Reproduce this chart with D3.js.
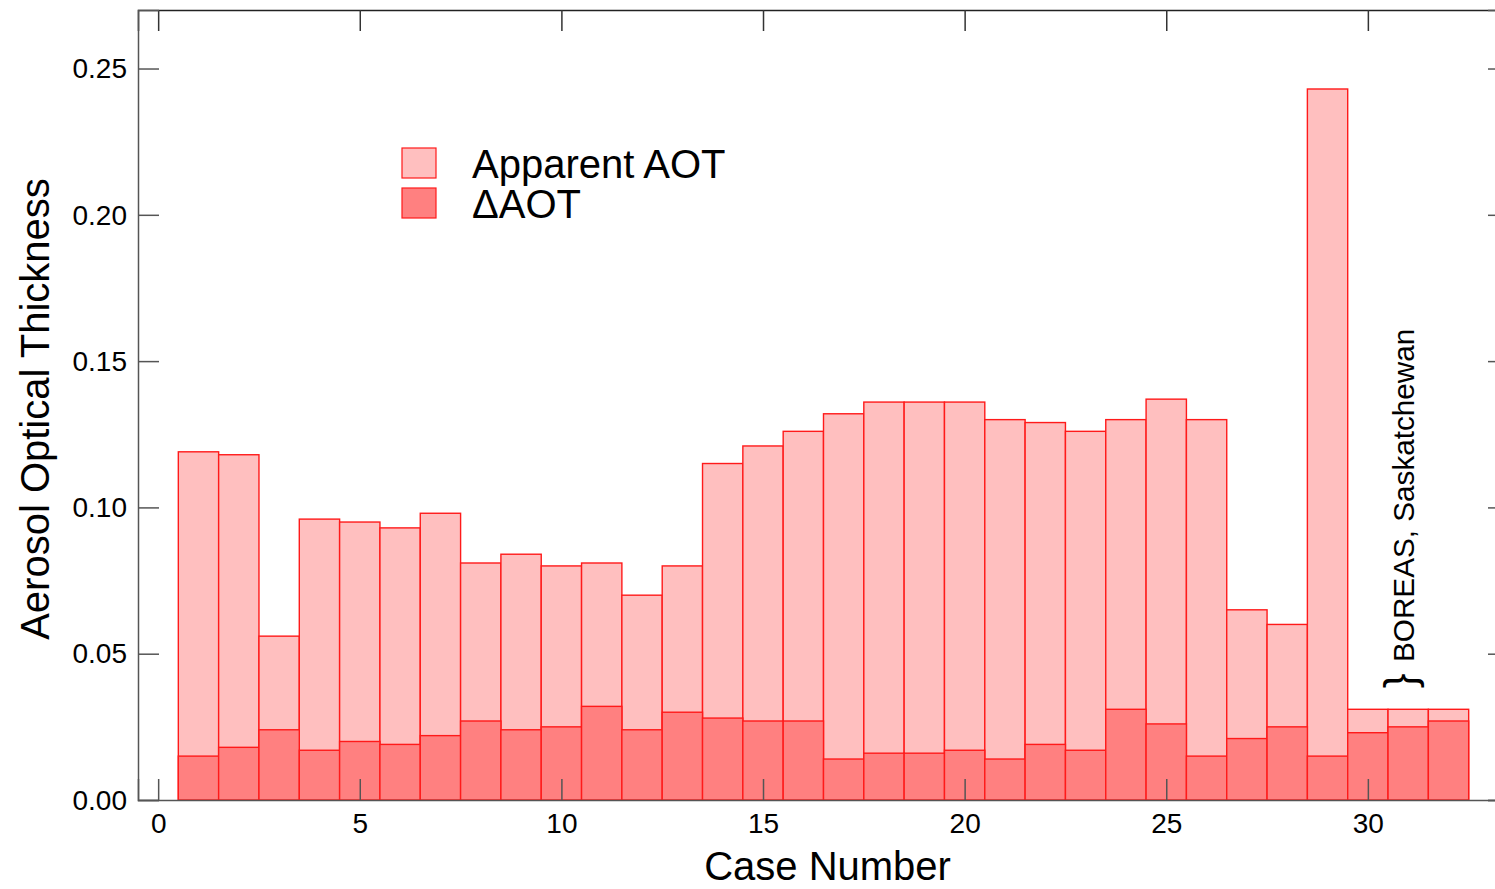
<!DOCTYPE html>
<html>
<head>
<meta charset="utf-8">
<script src="https://cdn.jsdelivr.net/npm/d3@7"></script>
<style>
  body { margin: 0; background: #fff; }
  text { font-family: "Liberation Sans", Arial, sans-serif; fill: #000; }
</style>
</head>
<body>
<div id="chart"></div>
<script>
// case numbers 1..32
const cases = d3.range(1, 33);
// apparent AOT per case
const apparentAOT = [0.119, 0.118, 0.056, 0.096, 0.095, 0.093, 0.098, 0.081,
  0.084, 0.080, 0.081, 0.070, 0.080, 0.115, 0.121, 0.126, 0.132, 0.136, 0.136,
  0.136, 0.130, 0.129, 0.126, 0.130, 0.137, 0.130, 0.065, 0.060, 0.243, 0.031,
  0.031, 0.031];
// delta AOT per case
const deltaAOT = [0.015, 0.018, 0.024, 0.017, 0.020, 0.019, 0.022, 0.027,
  0.024, 0.025, 0.032, 0.024, 0.030, 0.028, 0.027, 0.027, 0.014, 0.016, 0.016,
  0.017, 0.014, 0.019, 0.017, 0.031, 0.026, 0.015, 0.021, 0.025, 0.015, 0.023,
  0.025, 0.027];
const xTicks = [0, 5, 10, 15, 20, 25, 30];
const yTicks = [0, 0.05, 0.10, 0.15, 0.20, 0.25];
const legendLabels = ["Apparent AOT", "\u0394AOT"];

const W = 1495, H = 889;
const margin = { left: 138, top: 10 };
const plotW = 1371, plotH = 790;

const lightFill = "#ffbfbf", darkFill = "#ff8080", barStroke = "#ff1a1a";

const svg = d3.select("#chart").append("svg")
  .attr("width", W).attr("height", H);

const x = d3.scaleLinear().domain([-0.5, 33.5]).range([0, plotW]);
const y = d3.scaleLinear().domain([0, 0.27]).range([plotH, 0]);

const g = svg.append("g")
  .attr("transform", `translate(${margin.left},${margin.top})`);

// bars: apparent first, delta on top
g.selectAll("rect.app")
  .data(cases)
  .enter().append("rect")
  .attr("class", "app")
  .attr("x", d => x(d - 0.5))
  .attr("width", d => x(d + 0.5) - x(d - 0.5))
  .attr("y", (d, i) => y(apparentAOT[i]))
  .attr("height", (d, i) => y(0) - y(apparentAOT[i]))
  .attr("fill", lightFill)
  .attr("stroke", barStroke)
  .attr("stroke-width", 1.4);

g.selectAll("rect.del")
  .data(cases)
  .enter().append("rect")
  .attr("class", "del")
  .attr("x", d => x(d - 0.5))
  .attr("width", d => x(d + 0.5) - x(d - 0.5))
  .attr("y", (d, i) => y(deltaAOT[i]))
  .attr("height", (d, i) => y(0) - y(deltaAOT[i]))
  .attr("fill", darkFill)
  .attr("stroke", barStroke)
  .attr("stroke-width", 1.4);

// axes with inward ticks
const tickLen = 21;
const axStroke = "#555";

g.append("g")
  .attr("transform", `translate(0,${plotH})`)
  .call(d3.axisBottom(x).tickValues(xTicks).tickSize(-tickLen).tickPadding(13).tickFormat(d3.format("d")))
  .call(a => a.select(".domain").attr("stroke", axStroke).attr("stroke-width", 1.5))
  .call(a => a.selectAll(".tick line").attr("stroke", axStroke).attr("stroke-width", 1.5))
  .call(a => a.selectAll(".tick text").attr("font-size", 28).attr("font-family", "Liberation Sans, Arial, sans-serif").attr("fill", "#000"));

g.append("g")
  .call(d3.axisTop(x).tickValues(xTicks).tickSize(-tickLen).tickFormat(""))
  .call(a => a.select(".domain").attr("stroke", "#222").attr("stroke-width", 1.5))
  .call(a => a.selectAll(".tick line").attr("stroke", "#333").attr("stroke-width", 1.5));

g.append("g")
  .call(d3.axisLeft(y).tickValues(yTicks).tickSize(-tickLen).tickPadding(11).tickFormat(d3.format(".2f")))
  .call(a => a.select(".domain").attr("stroke", axStroke).attr("stroke-width", 1.5))
  .call(a => a.selectAll(".tick line").attr("stroke", axStroke).attr("stroke-width", 1.5))
  .call(a => a.selectAll(".tick text").attr("font-size", 28).attr("dy", "0.33em").attr("font-family", "Liberation Sans, Arial, sans-serif").attr("fill", "#000"));

g.append("g")
  .attr("transform", `translate(${plotW},0)`)
  .call(d3.axisRight(y).tickValues(yTicks).tickSize(-tickLen).tickFormat(""))
  .call(a => a.select(".domain").attr("stroke", axStroke).attr("stroke-width", 1.5))
  .call(a => a.selectAll(".tick line").attr("stroke", axStroke).attr("stroke-width", 1.5));

// axis titles
svg.append("text")
  .attr("x", margin.left + x(16.6))
  .attr("y", 880)
  .attr("text-anchor", "middle")
  .attr("font-size", 40)
  .text("Case Number");

svg.append("text")
  .attr("transform", `translate(49,${409}) rotate(-90)`)
  .attr("text-anchor", "middle")
  .attr("font-size", 40)
  .text("Aerosol Optical Thickness");

// legend
const legend = svg.append("g").attr("transform", "translate(402,148)");
legend.selectAll("rect")
  .data(legendLabels)
  .enter().append("rect")
  .attr("x", 0)
  .attr("y", (d, i) => i * 40)
  .attr("width", 34)
  .attr("height", 30)
  .attr("fill", (d, i) => i === 0 ? lightFill : darkFill)
  .attr("stroke", barStroke)
  .attr("stroke-width", 1.2);
legend.selectAll("text")
  .data(legendLabels)
  .enter().append("text")
  .attr("x", 70)
  .attr("y", (d, i) => 30 + i * 40)
  .attr("font-size", 40)
  .text(d => d);

// annotation for BOREAS cases
svg.append("text")
  .attr("transform", `translate(1415,681) rotate(-90)`)
  .attr("text-anchor", "middle")
  .attr("font-size", 44)
  .text("}");

svg.append("text")
  .attr("transform", `translate(1414,662) rotate(-90)`)
  .attr("font-size", 29.7)
  .text("BOREAS, Saskatchewan");
</script>
</body>
</html>
